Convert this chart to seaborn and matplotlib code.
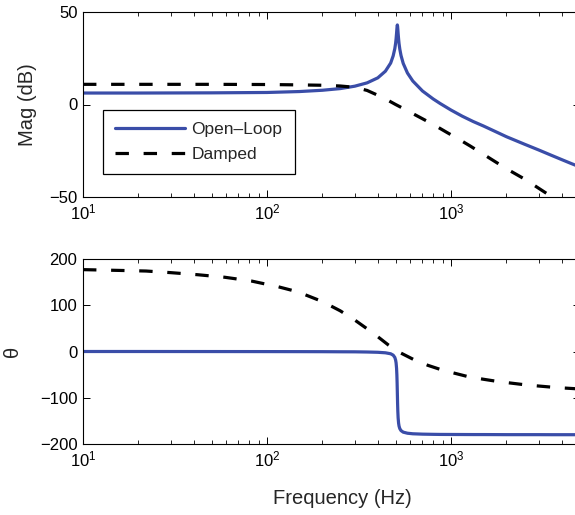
import numpy as np
import pandas as pd
import matplotlib
matplotlib.use("Agg")
import matplotlib.pyplot as plt
import seaborn as sns
from matplotlib.ticker import LogLocator, NullFormatter, FixedLocator

# ---------------- data ----------------
freq_open = [10, 20, 50, 100, 150, 200, 250, 300, 350, 400, 440, 470, 485, 495,
             500, 503, 506, 508, 509.5, 511, 512.5, 514, 516, 519, 522, 527, 535,
             550, 580, 620, 700, 800, 871, 1000, 1150, 1320, 1500, 1750, 2000, 2500,
             3000, 3500, 4000, 4500, 5000]
mag_open = [6.2, 6.2, 6.3, 6.5, 7.0, 7.7, 8.6, 9.9, 11.7, 14.4, 18.0, 22.4, 26.3, 30.2,
            33.1, 35.5, 38.5, 40.8, 42.3, 43.0, 42.3, 40.7, 38.4, 35.4, 32.9, 29.9, 26.5,
            22.2, 17.0, 12.7, 7.3, 3.0, 0.6, -3.0, -6.3, -9.2, -11.6, -14.7, -17.4, -21.4,
            -24.6, -27.4, -29.8, -31.9, -33.7]
phase_open = [0.0, 0.0, -0.1, -0.2, -0.3, -0.4, -0.6, -0.7, -1.1, -1.7, -2.8, -4.9, -7.9, -12.8,
              -18.4, -24.6, -36.3, -50.9, -67.9, -90.0, -112.0, -129.0, -143.4, -155.0, -161.3, -166.8, -171.0,
              -174.4, -176.7, -177.9, -178.7, -179.1, -179.3, -179.4, -179.5, -179.6, -179.6, -179.7, -179.8, -179.8,
              -179.8, -179.9, -179.9, -179.9, -179.9]

freq_damp_mag = [10, 50, 100, 150, 200, 250, 300, 350, 400, 450, 500, 574, 650, 750, 850, 950,
                 1100, 1270, 1500, 1770, 2100, 2520, 3300, 4000, 5000]
mag_damp = [10.9, 10.9, 10.8, 10.6, 10.4, 10.0, 9.3, 7.6, 5.0, 2.5, 0.0, -3.1, -6.0, -9.3, -12.3, -15.1,
            -18.7, -22.4, -26.9, -31.4, -35.9, -40.4, -48.0, -53.0, -59.0]

freq_damp_ph = [10, 15, 22, 30, 42, 59, 82, 115, 147, 200, 250, 300, 356, 400, 457, 520,
                624, 750, 871, 1000, 1242, 1500, 1807, 2575, 3750, 5000]
phase_damp = [177, 175.5, 174, 170.5, 166, 160.5, 152.5, 140, 129, 108, 88, 68, 47, 32, 14, -1,
              -17, -30, -38.5, -45, -54.5, -60, -65, -72.4, -78, -81]

labels = ["Open\u2013Loop", "Damped"]
mag_yticks = [-50, 0, 50]
phase_yticks = [-200, -100, 0, 100, 200]

# ---------------- style ----------------
sns.set_theme(style="ticks")
plt.rcParams["font.family"] = ["Liberation Sans", "DejaVu Sans"]
plt.rcParams["mathtext.fontset"] = "custom"
plt.rcParams["mathtext.rm"] = "Liberation Sans"
plt.rcParams["axes.linewidth"] = 0.8

BLUE = "#3A4DA8"
LW = 2.3

W, H = 575, 515
fig = plt.figure(figsize=(W / 100, H / 100), dpi=100)

left_px = 83
decade_px = 184.0
xmin, xmax = 10, 5000
width_px = decade_px * np.log10(xmax / xmin)

def add_axes(top_px, bottom_px):
    return fig.add_axes([left_px / W, (H - bottom_px) / H, width_px / W, (bottom_px - top_px) / H])

ax1 = add_axes(12, 197)
ax2 = add_axes(259, 444)

df_mo = pd.DataFrame({"f": freq_open, "v": mag_open})
df_po = pd.DataFrame({"f": freq_open, "v": phase_open})
df_md = pd.DataFrame({"f": freq_damp_mag, "v": mag_damp})
df_pd = pd.DataFrame({"f": freq_damp_ph, "v": phase_damp})

dash = (0, (4.2, 4.6))

sns.lineplot(data=df_mo, x="f", y="v", ax=ax1, color=BLUE, lw=LW, label=labels[0])
sns.lineplot(data=df_md, x="f", y="v", ax=ax1, color="black", lw=LW, linestyle=dash, label=labels[1])
sns.lineplot(data=df_po, x="f", y="v", ax=ax2, color=BLUE, lw=LW)
sns.lineplot(data=df_pd, x="f", y="v", ax=ax2, color="black", lw=LW, linestyle=dash)

for ax in (ax1, ax2):
    ax.set_xscale("log")
    ax.set_xlim(xmin, xmax)
    ax.xaxis.set_major_locator(LogLocator(base=10, numticks=10))
    ax.xaxis.set_minor_locator(LogLocator(base=10, subs=np.arange(2, 10), numticks=20))
    ax.xaxis.set_minor_formatter(NullFormatter())
    ax.tick_params(which="both", direction="in", top=True, right=True, labelsize=12,
                   pad=4, color="black", labelcolor="black")
    ax.tick_params(which="major", length=5, width=0.7)
    ax.tick_params(which="minor", length=3, width=0.6)
    for s in ax.spines.values():
        s.set_color("black")
        s.set_linewidth(0.8)
    ax.set_facecolor("white")

ax1.set_ylim(-50, 50)
ax1.yaxis.set_major_locator(FixedLocator(mag_yticks))
ax2.set_ylim(-200, 200)
ax2.yaxis.set_major_locator(FixedLocator(phase_yticks))

ax1.set_xlabel("")
ax1.set_ylabel("Mag (dB)", fontsize=14.5)
ax2.set_ylabel("\u03b8", fontsize=14.5)
ax2.set_xlabel("Frequency (Hz)", fontsize=14.5)

ax1.yaxis.set_label_coords((28 - left_px) / width_px, 0.5)
ax1.yaxis.label.set_va("center")
ax2.yaxis.set_label_coords((13 - left_px) / width_px, 0.5)
ax2.yaxis.label.set_va("center")
ax2.xaxis.set_label_coords((342 - left_px) / width_px, -(498 - 444) / 185)
ax2.xaxis.label.set_va("center")

leg = ax1.legend(loc="upper left", bbox_to_anchor=((103 - left_px) / width_px, (197 - 110) / 185),
                 fontsize=12.5, frameon=True, fancybox=False, shadow=False,
                 handlelength=4.0, handletextpad=0.4, borderpad=0.7, labelspacing=0.55,
                 borderaxespad=0.0)
leg.get_frame().set_edgecolor("black")
leg.get_frame().set_linewidth(0.9)
leg.get_frame().set_facecolor("white")
leg.get_frame().set_alpha(1)

fig.savefig("out.png", dpi=100, facecolor="white")
